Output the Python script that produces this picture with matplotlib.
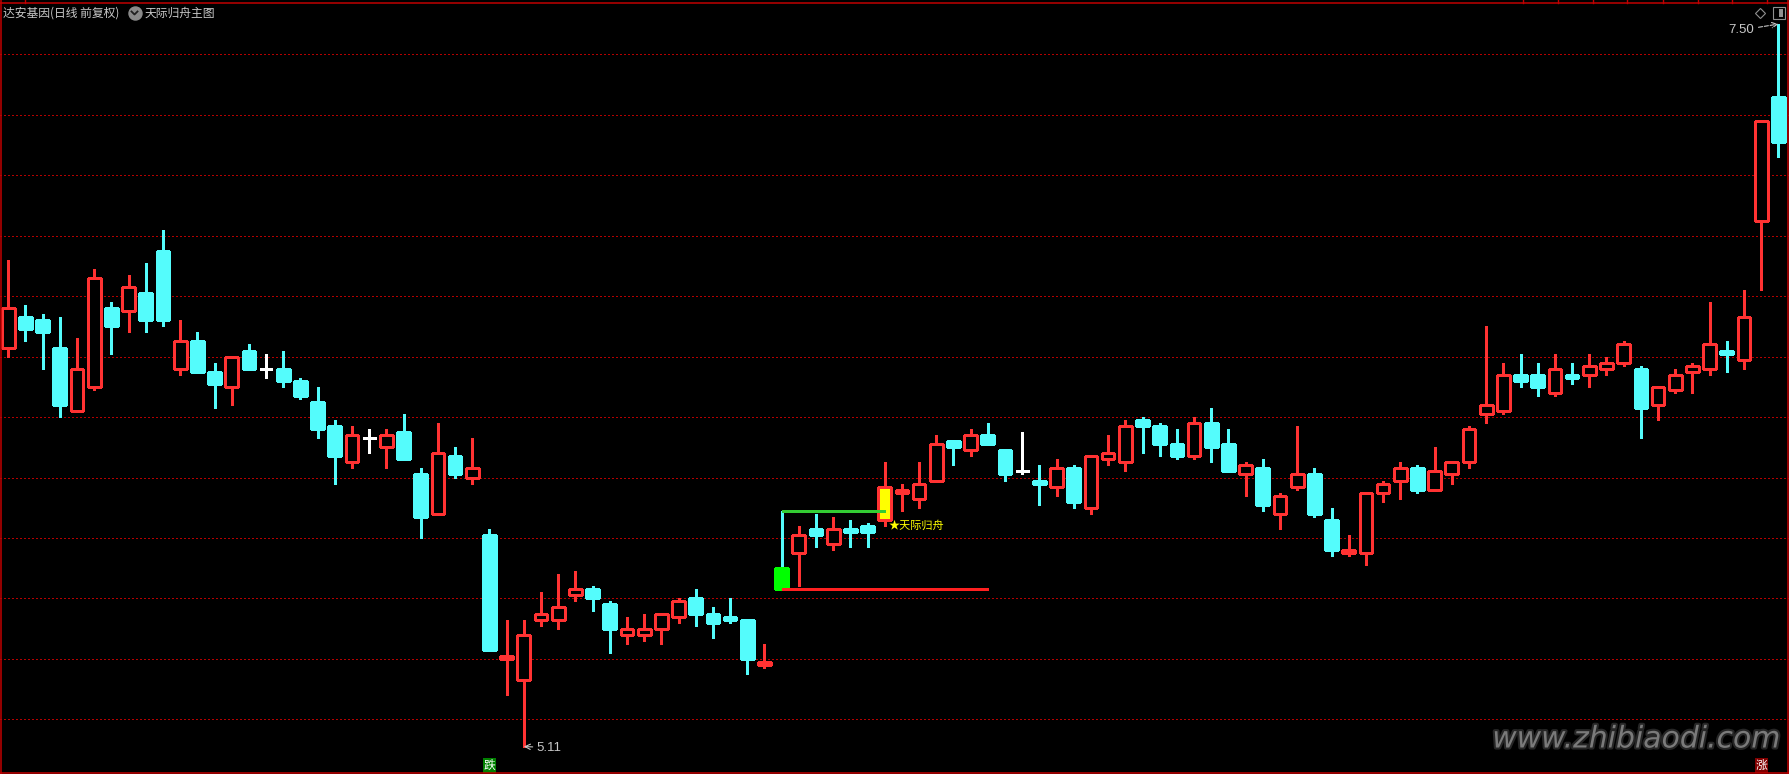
import matplotlib
matplotlib.use('Agg')
import matplotlib.pyplot as plt
import matplotlib.patheffects as pe
from matplotlib.patches import Rectangle
from matplotlib.lines import Line2D
from matplotlib.transforms import blended_transform_factory
import numpy as np

plt.rcParams['font.family'] = ['Noto Sans CJK SC', 'DejaVu Sans']

stock_title = '达安基因(日线 前复权)'
indicator_name = '天际归舟主图'
signal_label = '★天际归舟'
watermark = 'www.zhibiaodi.com'

# daily OHLC
opens = [6.43, 6.53, 6.52, 6.43, 6.22, 6.30, 6.56, 6.55, 6.61, 6.75,
         6.36, 6.45, 6.35, 6.30, 6.42, 6.36, 6.36, 6.32, 6.25, 6.17,
         6.05, 6.13, 6.10, 6.15, 6.01, 5.88, 6.07, 6.00, 5.81, 5.40,
         5.33, 5.53, 5.53, 5.61, 5.63, 5.58, 5.48, 5.48, 5.50, 5.54,
         5.60, 5.55, 5.54, 5.53, 5.38, 5.70, 5.75, 5.83, 5.78, 5.83,
         5.84, 5.86, 5.95, 5.93, 5.99, 6.12, 6.09, 6.14, 6.09, 6.02,
         5.99, 5.97, 6.03, 5.90, 6.06, 6.05, 6.19, 6.17, 6.11, 6.07,
         6.18, 6.11, 6.01, 6.03, 5.88, 5.97, 6.01, 5.86, 5.75, 5.75,
         5.95, 5.99, 6.03, 5.96, 6.01, 6.05, 6.21, 6.22, 6.34, 6.34,
         6.28, 6.34, 6.34, 6.36, 6.38, 6.36, 6.24, 6.29, 6.35, 6.36,
         6.42, 6.39, 6.85, 7.26]
highs = [6.72, 6.57, 6.54, 6.53, 6.46, 6.69, 6.58, 6.67, 6.71, 6.82,
         6.52, 6.48, 6.38, 6.40, 6.44, 6.41, 6.42, 6.33, 6.30, 6.19,
         6.17, 6.16, 6.16, 6.21, 6.03, 6.18, 6.10, 6.13, 5.83, 5.53,
         5.53, 5.62, 5.68, 5.69, 5.64, 5.59, 5.54, 5.55, 5.55, 5.60,
         5.63, 5.57, 5.60, 5.53, 5.45, 5.89, 5.84, 5.88, 5.87, 5.86,
         5.85, 6.05, 5.98, 6.05, 6.14, 6.12, 6.16, 6.18, 6.09, 6.15,
         6.04, 6.06, 6.04, 6.07, 6.14, 6.19, 6.20, 6.18, 6.16, 6.20,
         6.23, 6.16, 6.05, 6.06, 5.95, 6.17, 6.03, 5.90, 5.81, 5.95,
         5.99, 6.05, 6.04, 6.10, 6.05, 6.17, 6.50, 6.38, 6.41, 6.38,
         6.41, 6.38, 6.41, 6.40, 6.45, 6.37, 6.30, 6.36, 6.38, 6.58,
         6.45, 6.62, 7.18, 7.50]
lows = [6.40, 6.45, 6.36, 6.20, 6.22, 6.29, 6.41, 6.48, 6.48, 6.50,
        6.34, 6.35, 6.23, 6.24, 6.36, 6.33, 6.30, 6.26, 6.13, 5.98,
        6.03, 6.08, 6.03, 6.06, 5.80, 5.88, 6.00, 5.98, 5.43, 5.28,
        5.11, 5.51, 5.50, 5.59, 5.56, 5.42, 5.45, 5.46, 5.45, 5.52,
        5.51, 5.47, 5.52, 5.35, 5.37, 5.63, 5.64, 5.77, 5.76, 5.77,
        5.77, 5.84, 5.89, 5.90, 5.99, 6.04, 6.07, 6.11, 5.99, 6.01,
        5.91, 5.94, 5.90, 5.88, 6.04, 6.02, 6.08, 6.07, 6.06, 6.06,
        6.05, 6.02, 5.94, 5.89, 5.83, 5.96, 5.87, 5.74, 5.74, 5.71,
        5.92, 5.93, 5.95, 5.96, 5.98, 6.03, 6.18, 6.21, 6.30, 6.27,
        6.27, 6.31, 6.30, 6.34, 6.37, 6.13, 6.19, 6.28, 6.28, 6.34,
        6.35, 6.36, 6.62, 7.06]
closes = [6.56, 6.49, 6.48, 6.24, 6.36, 6.66, 6.50, 6.63, 6.52, 6.52,
          6.45, 6.35, 6.31, 6.40, 6.36, 6.36, 6.32, 6.27, 6.16, 6.07,
          6.14, 6.13, 6.14, 6.06, 5.87, 6.08, 6.01, 6.03, 5.43, 5.41,
          5.48, 5.55, 5.57, 5.63, 5.60, 5.50, 5.50, 5.50, 5.55, 5.59,
          5.55, 5.52, 5.53, 5.40, 5.39, 5.63, 5.81, 5.81, 5.83, 5.82,
          5.82, 5.97, 5.96, 5.98, 6.11, 6.10, 6.14, 6.11, 6.01, 6.02,
          5.98, 6.03, 5.92, 6.07, 6.08, 6.17, 6.17, 6.11, 6.07, 6.18,
          6.10, 6.02, 6.04, 5.91, 5.94, 6.01, 5.88, 5.76, 5.76, 5.95,
          5.98, 6.03, 5.96, 6.02, 6.05, 6.16, 6.24, 6.34, 6.32, 6.30,
          6.36, 6.33, 6.37, 6.38, 6.44, 6.23, 6.30, 6.34, 6.37, 6.44,
          6.41, 6.53, 7.18, 7.11]

signal_start = 45   # green bar, start of the pattern
signal_bar = 51     # yellow bar, signal day
support_end = 57    # end of the support line

grid_levels = np.arange(5.2, 7.41, 0.2)

RED = '#ff3232'
CYAN = '#54fcfc'
BORDER = '#c00000'
GRID = '#b40000'
LABEL = '#c8c8c8'

W, H = 1789, 774
fig = plt.figure(figsize=(W / 100, H / 100), dpi=100, facecolor='black')
ax = fig.add_axes([0, 0, 1, 1])
ax.set_facecolor('black')
ax.set_axis_off()
ax.set_xlim(-0.483, 103.62)
ax.set_ylim(5.0192, 7.5796)


def fpx(x, y):
    # pixel position (top-left origin) -> figure fraction
    return x / W, 1 - y / H


for lv in grid_levels:
    ax.axhline(lv, color=GRID, lw=0.8, ls=(0, (1.2, 2.6)), zorder=1,
               antialiased=False)

bw = 0.74
lw = 0.9
for i, (o, h, l, c) in enumerate(zip(opens, highs, lows, closes)):
    top, bot = max(o, c), min(o, c)
    if c > o:
        face = 'yellow' if i == signal_bar else 'black'
        ax.vlines(i, top, h, color=RED, lw=lw, zorder=2, antialiased=False)
        ax.vlines(i, l, bot, color=RED, lw=lw, zorder=2, antialiased=False)
        ax.add_patch(Rectangle((i - bw / 2, bot), bw, top - bot, facecolor=face,
                               edgecolor=RED, lw=lw, zorder=3, antialiased=False))
    elif c < o:
        face = '#00ff00' if i == signal_start else CYAN
        ax.vlines(i, l, h, color=CYAN, lw=lw, zorder=2, antialiased=False)
        ax.add_patch(Rectangle((i - bw / 2, bot), bw, top - bot, facecolor=face,
                               edgecolor=face, lw=lw, zorder=3, antialiased=False))
    else:
        ax.vlines(i, l, h, color='white', lw=lw, zorder=2, antialiased=False)
        ax.hlines(o, i - bw / 2, i + bw / 2, color='white', lw=lw, zorder=2,
                  antialiased=False)

# pattern lines
ax.hlines(highs[signal_start], signal_start, signal_bar, color='#33cc33', lw=1.0,
          zorder=4, antialiased=False)
ax.hlines(lows[signal_start], signal_start, support_end, color='#ff2020', lw=1.0,
          zorder=4, antialiased=False)
ax.text(signal_bar + 0.22, lows[signal_bar], signal_label, color='yellow',
        fontsize=8, ha='left', va='center', zorder=5)

# max / min labels
imax = int(np.argmax(highs))
imin = int(np.argmin(lows))
ax.annotate('%.2f' % highs[imax], xy=(imax, highs[imax]), xytext=(-24, -6),
            textcoords='offset pixels', ha='right', va='center', color=LABEL,
            fontsize=9.5, family=['Liberation Sans'],
            arrowprops=dict(arrowstyle='->', ls='--', color=LABEL, lw=0.8,
                            shrinkA=1, shrinkB=0))
ax.annotate('%.2f' % lows[imin], xy=(imin, lows[imin]), xytext=(13, -1),
            textcoords='offset pixels', ha='left', va='center', color=LABEL,
            fontsize=9.5, family=['Liberation Sans'],
            arrowprops=dict(arrowstyle='->', color=LABEL, lw=0.8,
                            shrinkA=1, shrinkB=0))

# limit up / limit down tags
trans = blended_transform_factory(ax.transData, ax.transAxes)
for i in range(1, len(closes)):
    chg = closes[i] / closes[i - 1] - 1
    if chg >= 0.095:
        ax.text(i, 0.011, '涨', transform=trans, color='white', fontsize=8.5,
                ha='center', va='center',
                bbox=dict(boxstyle='square,pad=0.05', fc='#800000', ec='none'))
    elif chg <= -0.095:
        ax.text(i, 0.011, '跌', transform=trans, color='white', fontsize=8.5,
                ha='center', va='center',
                bbox=dict(boxstyle='square,pad=0.05', fc='#008000', ec='none'))

# header
fig.text(*fpx(3, 13), stock_title, color=LABEL, fontsize=8.5, ha='left', va='center')
fig.add_artist(Line2D([134.5 / W], [1 - 13 / H], marker='o', markersize=9.4,
                      color='#8a8a8a', transform=fig.transFigure))
cx, cy = zip(fpx(131.5, 11.5), fpx(134.5, 14.5), fpx(137.5, 11.5))
fig.add_artist(Line2D(cx, cy, color='#202020', lw=1.3, transform=fig.transFigure))
fig.text(*fpx(145, 13), indicator_name, color=LABEL, fontsize=8.5, ha='left',
         va='center')

# top-right icons
fig.add_artist(Line2D([1760 / W], [1 - 13 / H], marker='D', markersize=5.5,
                      markerfacecolor='none', markeredgecolor='#909090', mew=0.8,
                      transform=fig.transFigure))
fig.add_artist(Rectangle(fpx(1773, 19), 12 / W, 12 / H, fill=False, ec='#909090',
                         lw=0.8, transform=fig.transFigure))
fig.add_artist(Rectangle(fpx(1779, 17), 4 / W, 8 / H, fc='#909090', ec='none',
                         transform=fig.transFigure))

# watermark
fig.text(*fpx(1780, 739), watermark, color='#7a7a7a', fontsize=21.5, style='italic',
         family=['DejaVu Sans'], ha='right', va='center',
         path_effects=[pe.withStroke(linewidth=3, foreground='#262626')])

# frame
for xs, ys in [((1, 1), (0, H)), ((1787.5, 1787.5), (0, H)),
               ((0, W), (3, 3)), ((0, W), (773, 773))]:
    px, py = zip(fpx(xs[0], ys[0]), fpx(xs[1], ys[1]))
    fig.add_artist(Line2D(px, py, color=BORDER, lw=1.1, transform=fig.transFigure))
for tx in [25, 1523, 1557.6, 1592.8, 1627, 1662.5, 1697.6, 1732, 1767]:
    px, py = zip(fpx(tx, 0), fpx(tx, 3))
    fig.add_artist(Line2D(px, py, color=BORDER, lw=1.0, transform=fig.transFigure))

fig.savefig('out.png', dpi=100, facecolor='black')
